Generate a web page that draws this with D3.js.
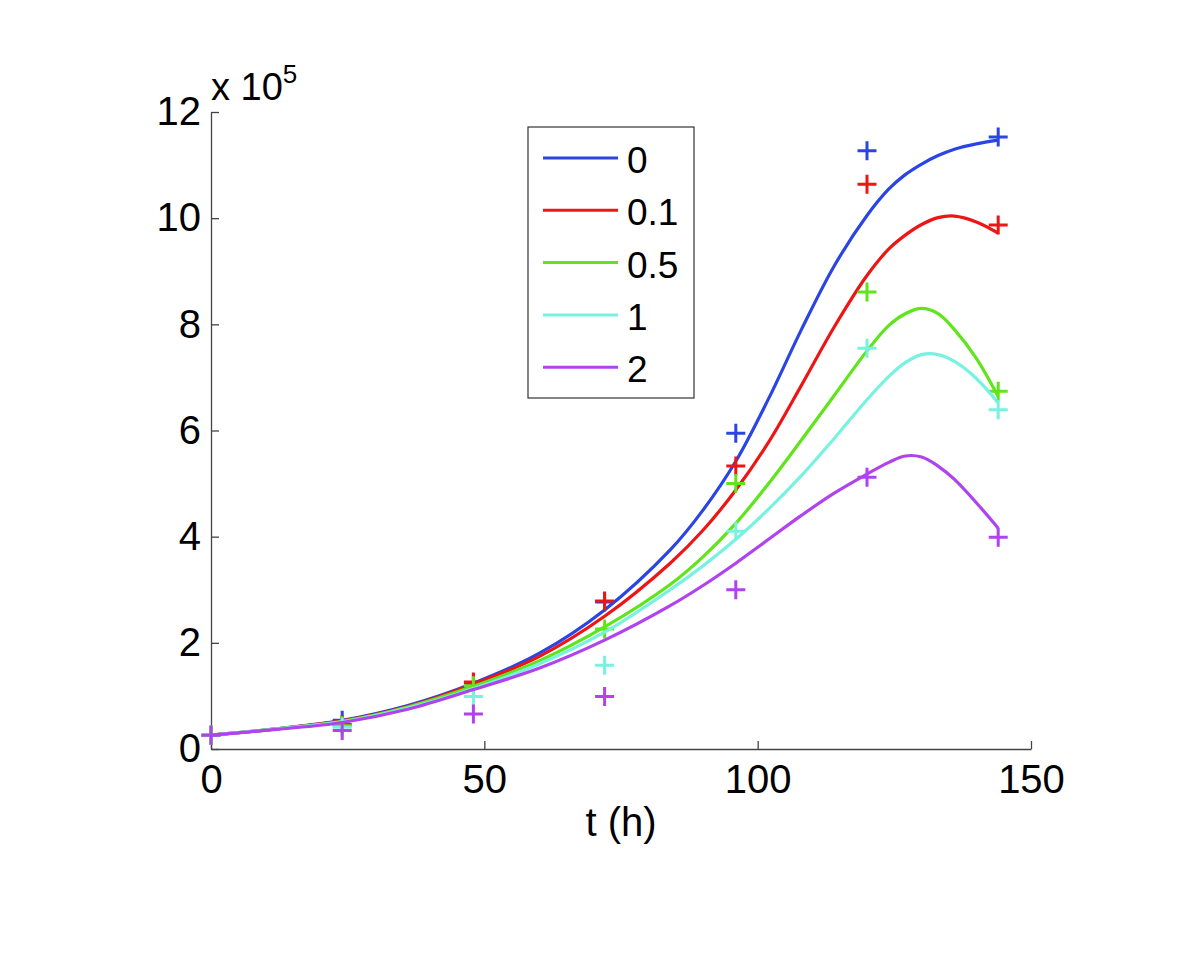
<!DOCTYPE html>
<html>
<head>
<meta charset="utf-8">
<script src="https://d3js.org/d3.v7.min.js"></script>
<style>
	body { margin: 0; background: #fff; }
	svg { display: block; font-family: "Liberation Sans", Arial, Helvetica, sans-serif; }
</style>
</head>
<body>
<svg id="chart" width="1200" height="960"></svg>
<script>

// measured time points (h)
var sampleT = [0, 24, 48, 72, 96, 120, 144];

// measured values (x 10^5), one array per dose
var pts0   = [0.26, 0.54, 1.25, 2.77, 5.95, 11.27, 11.53];
var pts01  = [0.26, 0.46, 1.26, 2.79, 5.33, 10.64, 9.87];
var pts05  = [0.26, 0.44, 1.19, 2.26, 5.00, 8.61, 6.74];
var pts1   = [0.26, 0.41, 0.99, 1.58, 4.10, 7.55, 6.39];
var pts2   = [0.26, 0.35, 0.66, 0.99, 3.00, 5.12, 3.99];

// model curves, same times for every dose
var curveT = [0, 12, 24, 36, 48, 60, 72, 84, 90, 96, 102, 108, 114, 120, 124, 127, 130, 133, 136, 140, 144];
var fit0   = [0.26, 0.38, 0.54, 0.82, 1.24, 1.80, 2.62, 3.75, 4.50, 5.42, 6.60, 7.90, 9.10, 10.05, 10.55, 10.82, 11.02, 11.18, 11.30, 11.40, 11.47];
var fit01  = [0.26, 0.38, 0.53, 0.80, 1.22, 1.74, 2.50, 3.50, 4.12, 4.88, 5.78, 6.85, 7.95, 8.92, 9.42, 9.68, 9.88, 10.01, 10.04, 9.93, 9.72];
var fit05  = [0.26, 0.38, 0.52, 0.79, 1.18, 1.66, 2.30, 3.10, 3.62, 4.25, 5.00, 5.82, 6.66, 7.50, 7.98, 8.20, 8.30, 8.20, 7.90, 7.36, 6.64];
var fit1   = [0.26, 0.38, 0.51, 0.77, 1.14, 1.60, 2.20, 3.00, 3.45, 3.95, 4.52, 5.15, 5.85, 6.58, 7.02, 7.28, 7.43, 7.43, 7.30, 6.98, 6.52];
var fit2   = [0.26, 0.37, 0.50, 0.75, 1.12, 1.52, 2.05, 2.70, 3.08, 3.50, 3.95, 4.40, 4.82, 5.18, 5.40, 5.52, 5.50, 5.33, 5.08, 4.64, 4.16];

var doseLabels = ["0", "0.1", "0.5", "1", "2"];
var doseColours = ["#2a45e3", "#ee1515", "#5ee61a", "#78f2e0", "#b042f0"];

var xTicks = [0, 50, 100, 150];
var yTicks = [0, 2, 4, 6, 8, 10, 12];

var series = [
	{label: doseLabels[0], colour: doseColours[0], pts: pts0, fit: fit0},
	{label: doseLabels[1], colour: doseColours[1], pts: pts01, fit: fit01},
	{label: doseLabels[2], colour: doseColours[2], pts: pts05, fit: fit05},
	{label: doseLabels[3], colour: doseColours[3], pts: pts1, fit: fit1},
	{label: doseLabels[4], colour: doseColours[4], pts: pts2, fit: fit2}
];

var svg = d3.select("#chart");

// plot box edges (window.top is read-only, hence the names)
var plotLeft = 211, plotRight = 1031, plotTop = 112, plotBottom = 749;

var x = d3.scaleLinear().domain([0, 150]).range([plotLeft, plotRight]);
var y = d3.scaleLinear().domain([0, 12]).range([plotBottom, plotTop]);

function drawAxes() { // matlab style: only left and bottom, ticks pointing in
	var xAxis = svg.append("g")
		.attr("transform", "translate(0," + plotBottom + ")")
		.call(d3.axisBottom(x).tickValues(xTicks).tickSizeInner(-8).tickSizeOuter(0).tickPadding(16));

	var yAxis = svg.append("g")
		.attr("transform", "translate(" + plotLeft + ",0)")
		.call(d3.axisLeft(y).tickValues(yTicks).tickSizeInner(-8).tickSizeOuter(0).tickPadding(10));

	[xAxis, yAxis].forEach(function(a) {
		a.select(".domain").attr("stroke", "#444").attr("stroke-width", 1.3);
		a.selectAll(".tick line").attr("stroke", "#444").attr("stroke-width", 1.3);
		a.selectAll(".tick text")
			.attr("fill", "#000")
			.style("font-size", "40px")
			.style("font-family", "'Liberation Sans', Arial, sans-serif");
	});

	// exponent label above the y axis
	var expo = svg.append("text")
		.attr("x", plotLeft)
		.attr("y", 100)
		.style("font-size", "38px");
	expo.append("tspan").text("x 10");
	expo.append("tspan").attr("dy", -17).style("font-size", "26px").text("5");

	svg.append("text")
		.attr("x", (plotLeft + plotRight) / 2)
		.attr("y", 836)
		.attr("text-anchor", "middle")
		.style("font-size", "40px")
		.text("t (h)");
}

function drawSeries() { // fitted line then the measured crosses, one dose at a time
	var line = d3.line()
		.x(function(d) { return x(d[0]); })
		.y(function(d) { return y(d[1]); })
		.curve(d3.curveCatmullRom.alpha(0.5));

	var arm = 9.5;

	series.forEach(function(s) {
		var g = svg.append("g");

		g.append("path")
			.datum(curveT.map(function(t, i) { return [t, s.fit[i]]; }))
			.attr("d", line)
			.attr("fill", "none")
			.attr("stroke", s.colour)
			.attr("stroke-width", 3.2);

		g.selectAll(".cross")
			.data(sampleT.map(function(t, i) { return [t, s.pts[i]]; }))
			.enter().append("path")
			.attr("class", "cross")
			.attr("d", function(d) {
				var cx = x(d[0]), cy = y(d[1]);
				return "M" + (cx - arm) + "," + cy + "H" + (cx + arm) +
					"M" + cx + "," + (cy - arm) + "V" + (cy + arm);
			})
			.attr("fill", "none")
			.attr("stroke", s.colour)
			.attr("stroke-width", 3);
	});
}

function drawLegend() {
	var lx = 528, ly = 127, lw = 166, lh = 271;

	svg.append("rect")
		.attr("x", lx).attr("y", ly)
		.attr("width", lw).attr("height", lh)
		.attr("fill", "#fff")
		.attr("stroke", "#333")
		.attr("stroke-width", 1.2);

	var item = svg.selectAll(".legend-item")
		.data(series)
		.enter().append("g")
		.attr("class", "legend-item")
		.attr("transform", function(d, i) { return "translate(0," + (158 + i * 52.3) + ")"; });

	item.append("line")
		.attr("x1", 543).attr("x2", 618)
		.attr("y1", 0).attr("y2", 0)
		.attr("stroke", function(d) { return d.colour; })
		.attr("stroke-width", 3);

	item.append("text")
		.attr("x", 627)
		.attr("y", 15)
		.style("font-size", "37px")
		.text(function(d) { return d.label; });
}

drawAxes();
drawSeries();
drawLegend();

</script>
</body>
</html>
